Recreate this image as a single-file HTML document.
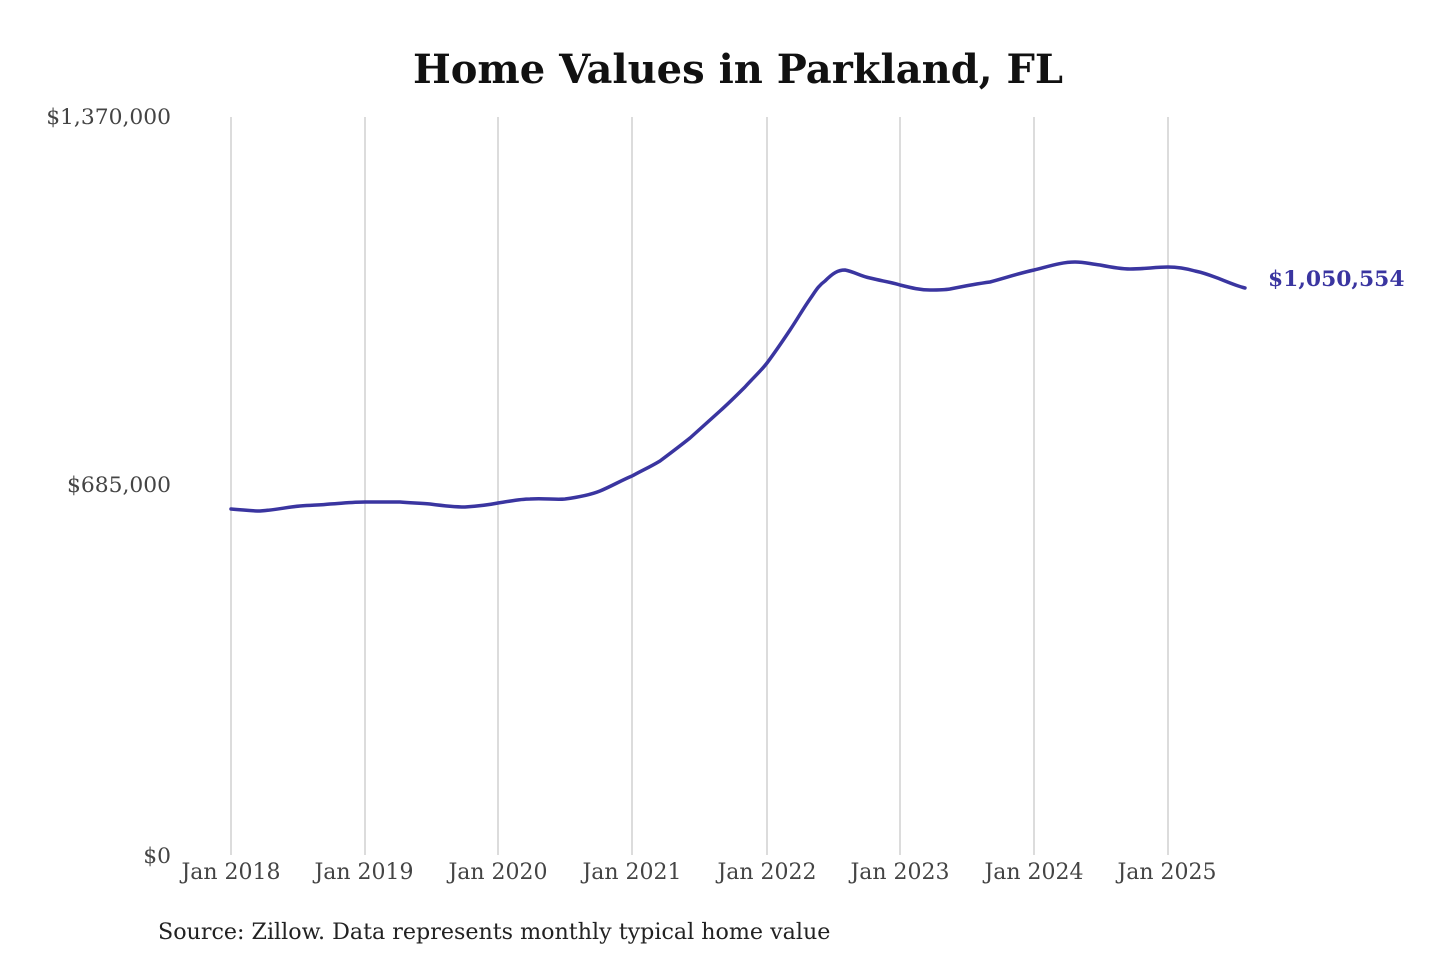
<!DOCTYPE html>
<html><head><meta charset="utf-8"><style>
html,body{margin:0;padding:0;background:#fff;width:1440px;height:960px;overflow:hidden}
svg{display:block}
text{font-family:"DejaVu Serif","Liberation Serif",serif}
</style></head><body>
<svg width="1440" height="960" viewBox="0 0 1440 960" xmlns="http://www.w3.org/2000/svg">
<rect width="1440" height="960" fill="#fff"/>
<text x="738" y="83" text-anchor="middle" font-size="40" font-weight="bold" fill="#111">Home Values in Parkland, FL</text>
<g stroke="#c4c4c4" stroke-width="1.2">
<line x1="231" y1="117" x2="231" y2="855"/>
<line x1="365" y1="117" x2="365" y2="855"/>
<line x1="498" y1="117" x2="498" y2="855"/>
<line x1="632" y1="117" x2="632" y2="855"/>
<line x1="767" y1="117" x2="767" y2="855"/>
<line x1="900" y1="117" x2="900" y2="855"/>
<line x1="1034" y1="117" x2="1034" y2="855"/>
<line x1="1168" y1="117" x2="1168" y2="855"/>
</g>
<g font-size="21.8" fill="#444" text-anchor="end">
<text x="171" y="124">$1,370,000</text>
<text x="171" y="492">$685,000</text>
<text x="171" y="863">$0</text>
</g>
<g font-size="22" fill="#444" text-anchor="middle">
<text x="231" y="879">Jan 2018</text>
<text x="364" y="879">Jan 2019</text>
<text x="498" y="879">Jan 2020</text>
<text x="632" y="879">Jan 2021</text>
<text x="767" y="879">Jan 2022</text>
<text x="900" y="879">Jan 2023</text>
<text x="1034" y="879">Jan 2024</text>
<text x="1167" y="879">Jan 2025</text>
</g>
<path fill="none" stroke="#3a35a0" stroke-width="3.5" stroke-linejoin="round" stroke-linecap="round"
d="M231,509 C245,510 250,511 260,511 C275,510 288,507 300,506 C315,505 322,505 330,504 C345,503 355,502 365,502 C380,502 390,502 400,502 C412,503 420,503 430,504 C445,506 455,507 465,507 C480,506 488,505 498,503 C512,501 520,499 530,499 C545,498 555,500 565,499 C580,497 590,495 600,491 C612,486 620,481 632,476 C645,469 650,467 660,461 C672,452 680,446 690,438 C700,429 710,420 720,411 C730,402 737,395 745,387 C753,378 760,372 767,363 C776,351 782,342 790,330 C798,318 803,309 810,299 C815,292 818,286 825,281 C833,273 838,270 845,270 C855,272 860,276 870,278 C882,281 890,282 900,285 C912,288 920,290 930,290 C940,290 944,290 950,289 C965,286 975,284 990,282 C1005,278 1020,273 1034,270 C1050,266 1062,262 1075,262 C1085,262 1090,264 1100,265 C1110,267 1120,269 1130,269 C1145,269 1155,267 1168,267 C1180,267 1188,269 1195,271 C1205,273 1212,276 1220,279 C1230,283 1237,286 1245,288"/>
<text x="1268" y="286" font-size="21.8" font-weight="bold" fill="#3a35a0">$1,050,554</text>
<text x="158" y="939" font-size="22.2" fill="#222">Source: Zillow. Data represents monthly typical home value</text>
</svg>
</body></html>
